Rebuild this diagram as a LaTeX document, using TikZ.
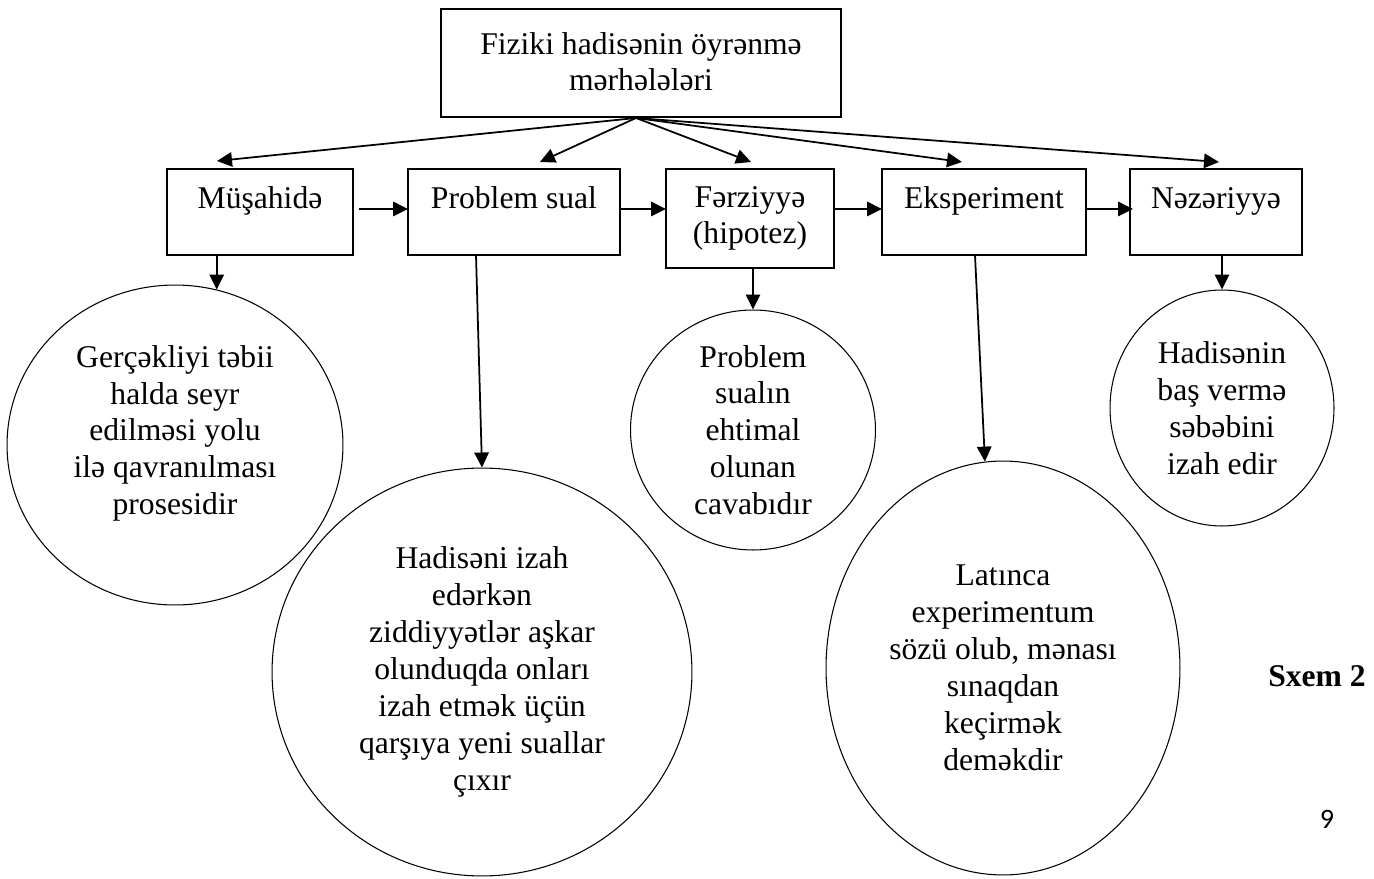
\documentclass[tikz,border=0pt]{standalone}
\usepackage{fontspec}
\setmainfont{Liberation Serif}
\newfontfamily\pagefont{Carlito}
\usetikzlibrary{shapes.geometric,arrows.meta,calc}
\begin{document}
\begin{tikzpicture}[x=0.02cm,y=-0.02cm,
    font=\fontsize{18}{21}\selectfont,
    stage/.style={draw,line width=0.75pt,inner sep=0pt,outer sep=0pt,anchor=north,align=center},
    bubble/.style={draw,ellipse,line width=0.6pt,inner sep=-1cm,align=center},
    arr/.style={line width=1pt,-{Triangle[length=0.3cm,width=0.29cm]}}]
  \useasboundingbox (0,0) rectangle (1374,879);
  % main box
  \node[stage,minimum width=8cm,text height=1.64cm,text depth=0.52cm] (top) at (641,9) {Fiziki hadisənin öyrənmə\\mərhələləri};
  \coordinate (hub) at ($(top.south)+(-5,1)$);
  % stages
  \node[stage,minimum width=3.72cm,text height=0.8cm,text depth=0.92cm] (mus) at (260,169) {Müşahidə};
  \node[stage,minimum width=4.24cm,text height=0.8cm,text depth=0.92cm] (ps) at (514,169) {Problem sual};
  \node[stage,minimum width=3.36cm,text height=1.5cm,text depth=0.48cm] (fz) at (750,169) {Fərziyyə\\(hipotez)};
  \node[stage,minimum width=4.08cm,text height=0.8cm,text depth=0.92cm] (ek) at (984,169) {Eksperiment};
  \node[stage,minimum width=3.44cm,text height=0.8cm,text depth=0.92cm] (nz) at (1216,169) {Nəzəriyyə};
  % explanations
  \node[bubble,minimum width=6.72cm,minimum height=6.4cm,text depth=0.6cm] (c1) at (175,445)
    {Gerçəkliyi təbii\\halda seyr\\edilməsi yolu\\ilə qavranılması\\prosesidir};
  \node[bubble,minimum width=8.4cm,minimum height=8.16cm] (c2) at (482,672)
    {Hadisəni izah\\edərkən\\ziddiyyətlər aşkar\\olunduqda onları\\izah etmək üçün\\qarşıya yeni suallar\\çıxır};
  \node[bubble,minimum width=4.9cm,minimum height=4.8cm] (c3) at (753,430)
    {Problem\\sualın\\ehtimal\\olunan\\cavabıdır};
  \node[bubble,minimum width=7.08cm,minimum height=8.28cm] (c4) at (1003,668)
    {Latınca\\experimentum\\sözü olub, mənası\\sınaqdan\\keçirmək\\deməkdir};
  \node[bubble,minimum width=4.48cm,minimum height=4.72cm] (c5) at (1222,408)
    {Hadisənin\\baş vermə\\səbəbini\\izah edir};
  % arrows from the main box
  \draw[arr] (hub) -- ($(mus.north)+(-43,-8)$);
  \draw[arr] (hub) -- ($(ps.north)+(26,-7)$);
  \draw[arr] (hub) -- ($(fz.north)+(1,-7)$);
  \draw[arr] (hub) -- ($(ek.north)+(-22,-7)$);
  \draw[arr] (hub) -- ($(nz.north)+(3,-7)$);
  % chain
  \draw[arr] ($(mus.east)+(6,-3)$) -- ($(ps.west)+(0,-3)$);
  \draw[arr] ($(ps.east)+(0,-3)$) -- ($(ps.east -| fz.west)+(0,-3)$);
  \draw[arr] ($(fz.east |- ek.west)+(0,-3)$) -- ($(ek.west)+(0,-3)$);
  \draw[arr] ($(ek.east)+(0,-3)$) -- ($(nz.west)+(3,-3)$);
  % down
  \draw[arr] (c1.75 |- mus.south) -- (c1.75);
  \draw[arr] ($(ps.south)+(-38,0)$) -- (c2.north);
  \draw[arr] (c3.north |- fz.south) -- (c3.north);
  \draw[arr] ($(ek.south)+(-9,0)$) -- (c4.95);
  \draw[arr] (c5.north |- nz.south) -- (c5.north);
  \node[font=\fontsize{18}{20}\selectfont\bfseries,anchor=base] (sxem) at (1317,686) {Sxem 2};
  \node[font=\pagefont\fontsize{16}{18}\selectfont,anchor=base] (page) at (1327,828) {9};
\end{tikzpicture}
\end{document}
